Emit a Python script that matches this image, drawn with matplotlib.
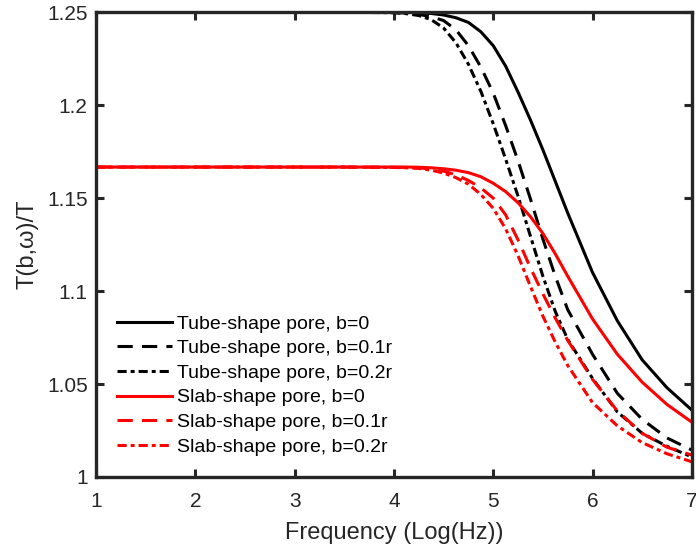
import matplotlib
matplotlib.use('Agg')
import matplotlib.pyplot as plt

plt.rcParams['font.family'] = ['Liberation Sans', 'DejaVu Sans']

# log10 frequency grid the values were read at
freq = [1, 2, 3, 3.5, 4, 4.125, 4.25, 4.375, 4.5, 4.625, 4.75, 4.875, 5,
        5.125, 5.25, 5.375, 5.5, 5.625, 5.75, 6, 6.25, 6.5, 6.75, 7]

tube_b0 = [1.25, 1.25, 1.25, 1.25, 1.25, 1.2499, 1.2497, 1.2493, 1.2485, 1.247,
           1.2445, 1.2395, 1.232, 1.221, 1.207, 1.192, 1.176, 1.159, 1.142,
           1.110, 1.084, 1.063, 1.048, 1.036]
tube_b01 = [1.25, 1.25, 1.25, 1.25, 1.2498, 1.2495, 1.2488, 1.2476, 1.2455,
            1.2405, 1.232, 1.2205, 1.2065, 1.189, 1.170, 1.1495, 1.128, 1.108,
            1.090, 1.066, 1.045, 1.031, 1.021, 1.0145]
tube_b02 = [1.25, 1.25, 1.25, 1.25, 1.2497, 1.2492, 1.2482, 1.246, 1.2415,
            1.2335, 1.222, 1.2075, 1.190, 1.171, 1.151, 1.1295, 1.108, 1.089,
            1.074, 1.053, 1.035, 1.0235, 1.0165, 1.0108]
slab_b0 = [1.1667, 1.1667, 1.1667, 1.1667, 1.1667, 1.1667, 1.1666, 1.1663,
           1.1658, 1.165, 1.1637, 1.1615, 1.158, 1.1535, 1.1475, 1.140, 1.131,
           1.120, 1.108, 1.085, 1.066, 1.051, 1.039, 1.0295]
slab_b01 = [1.1667, 1.1667, 1.1667, 1.1667, 1.1666, 1.1665, 1.1663, 1.1656,
            1.1645, 1.1625, 1.1595, 1.1555, 1.150, 1.141, 1.1275, 1.1125,
            1.0985, 1.0855, 1.0735, 1.0525, 1.0355, 1.0235, 1.016, 1.0118]
slab_b02 = [1.1667, 1.1667, 1.1667, 1.1667, 1.1665, 1.1663, 1.166, 1.165,
            1.1635, 1.161, 1.1575, 1.152, 1.1445, 1.1335, 1.119, 1.1025,
            1.0865, 1.0725, 1.060, 1.040, 1.0275, 1.0185, 1.0125, 1.0082]

labels = ['Tube-shape pore, b=0', 'Tube-shape pore, b=0.1r',
          'Tube-shape pore, b=0.2r', 'Slab-shape pore, b=0',
          'Slab-shape pore, b=0.1r', 'Slab-shape pore, b=0.2r']

xticks = [1, 2, 3, 4, 5, 6, 7]
yticks = [1, 1.05, 1.1, 1.15, 1.2, 1.25]
yticklabels = ['1', '1.05', '1.1', '1.15', '1.2', '1.25']

dashed = (0, (5.0, 3.0))
dashdot = (0, (3.0, 1.3, 1.3, 1.3))
ink = '#262626'

fig = plt.figure(figsize=(6.96, 5.54), dpi=100)
ax = fig.add_axes([0.138, 0.139, 0.856, 0.839])

lw = 2.2
ax.plot(freq, tube_b0, color='black', lw=lw, ls='-', label=labels[0])
ax.plot(freq, tube_b01, color='black', lw=lw, ls=dashed, label=labels[1])
ax.plot(freq, tube_b02, color='black', lw=lw, ls=dashdot, label=labels[2])
ax.plot(freq, slab_b0, color='red', lw=lw, ls='-', label=labels[3])
ax.plot(freq, slab_b01, color='red', lw=lw, ls=dashed, label=labels[4])
ax.plot(freq, slab_b02, color='red', lw=lw, ls=dashdot, label=labels[5])

# Cosmetics
ax.set_xlim(1, 7)
ax.set_ylim(1, 1.25)
ax.set_xticks(xticks)
ax.set_yticks(yticks)
ax.set_yticklabels(yticklabels)
ax.tick_params(direction='in', length=6, width=2.2, top=True, right=True,
               labelsize=15, colors=ink)
ax.tick_params(axis='x', pad=11)
ax.tick_params(axis='y', pad=6)
for sp in ax.spines.values():
    sp.set_linewidth(2.4)
    sp.set_color(ink)
ax.set_xlabel('Frequency (Log(Hz))', fontsize=17, color=ink, labelpad=8)
ax.set_ylabel('T(b,\u03c9)/T', fontsize=17, color=ink, labelpad=6)

ax.legend(loc='lower left', frameon=False, fontsize=14, handlelength=2.8,
          handletextpad=0.25, labelspacing=0.36, borderaxespad=0.7)

fig.savefig('out.png', dpi=100)
